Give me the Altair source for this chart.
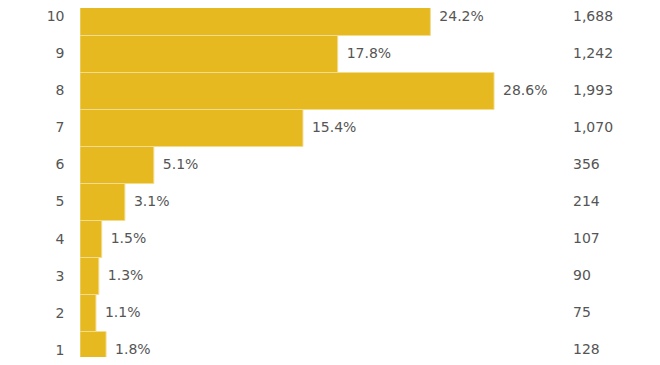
import altair as alt
import pandas as pd

rows = [10, 9, 8, 7, 6, 5, 4, 3, 2, 1]
pct = [24.2, 17.8, 28.6, 15.4, 5.1, 3.1, 1.5, 1.3, 1.1, 1.8]
counts = [1688, 1242, 1993, 1070, 356, 214, 107, 90, 75, 128]

df = pd.DataFrame({"row": rows, "pct": pct, "count": counts})

FONT = "DejaVu Sans"
TXT = "#555555"
BAR = "#E5B91F"

yscale = alt.Scale(domain=[0.811, 10.243], nice=False, zero=False)
xscale = alt.Scale(domain=[0, 39.51], nice=False, zero=True)
yaxis = alt.Axis(values=rows, format="d", ticks=False, domain=False, grid=False,
                 labelOverlap=False, labelPadding=16, labelFontSize=14,
                 labelColor=TXT, labelFont=FONT, title=None)

base = alt.Chart(df)

bars = base.transform_calculate(
    y0="datum.row - 0.5", y1="datum.row + 0.5", x0="0"
).mark_bar(color=BAR, stroke="#F3DC8E", strokeWidth=1, clip=True).encode(
    x=alt.X("x0:Q", scale=xscale, axis=None),
    x2="pct:Q",
    y=alt.Y("y0:Q", scale=yscale, axis=yaxis),
    y2="y1:Q",
)

pct_text = base.transform_calculate(
    label="format(datum.pct, '.1f') + '%'"
).mark_text(align="left", baseline="middle", dx=9, font=FONT, fontSize=14, color=TXT).encode(
    x=alt.X("pct:Q", scale=xscale, axis=None),
    y=alt.Y("row:Q", scale=yscale, axis=yaxis),
    text="label:N",
)

count_text = base.mark_text(align="left", baseline="middle", font=FONT, fontSize=14, color=TXT).encode(
    x=alt.value(493),
    y=alt.Y("row:Q", scale=yscale, axis=yaxis),
    text=alt.Text("count:Q", format=","),
)

chart = alt.layer(bars, pct_text, count_text).properties(
    width=572, height=349,
    autosize=alt.AutoSizeParams(type="none"),
    padding={"left": 72, "top": 0, "right": 0, "bottom": 0},
).configure_view(stroke=None).configure_axis(labelOverlap=False)

chart.save("out.html", embed_options={"renderer": "svg", "actions": False})
